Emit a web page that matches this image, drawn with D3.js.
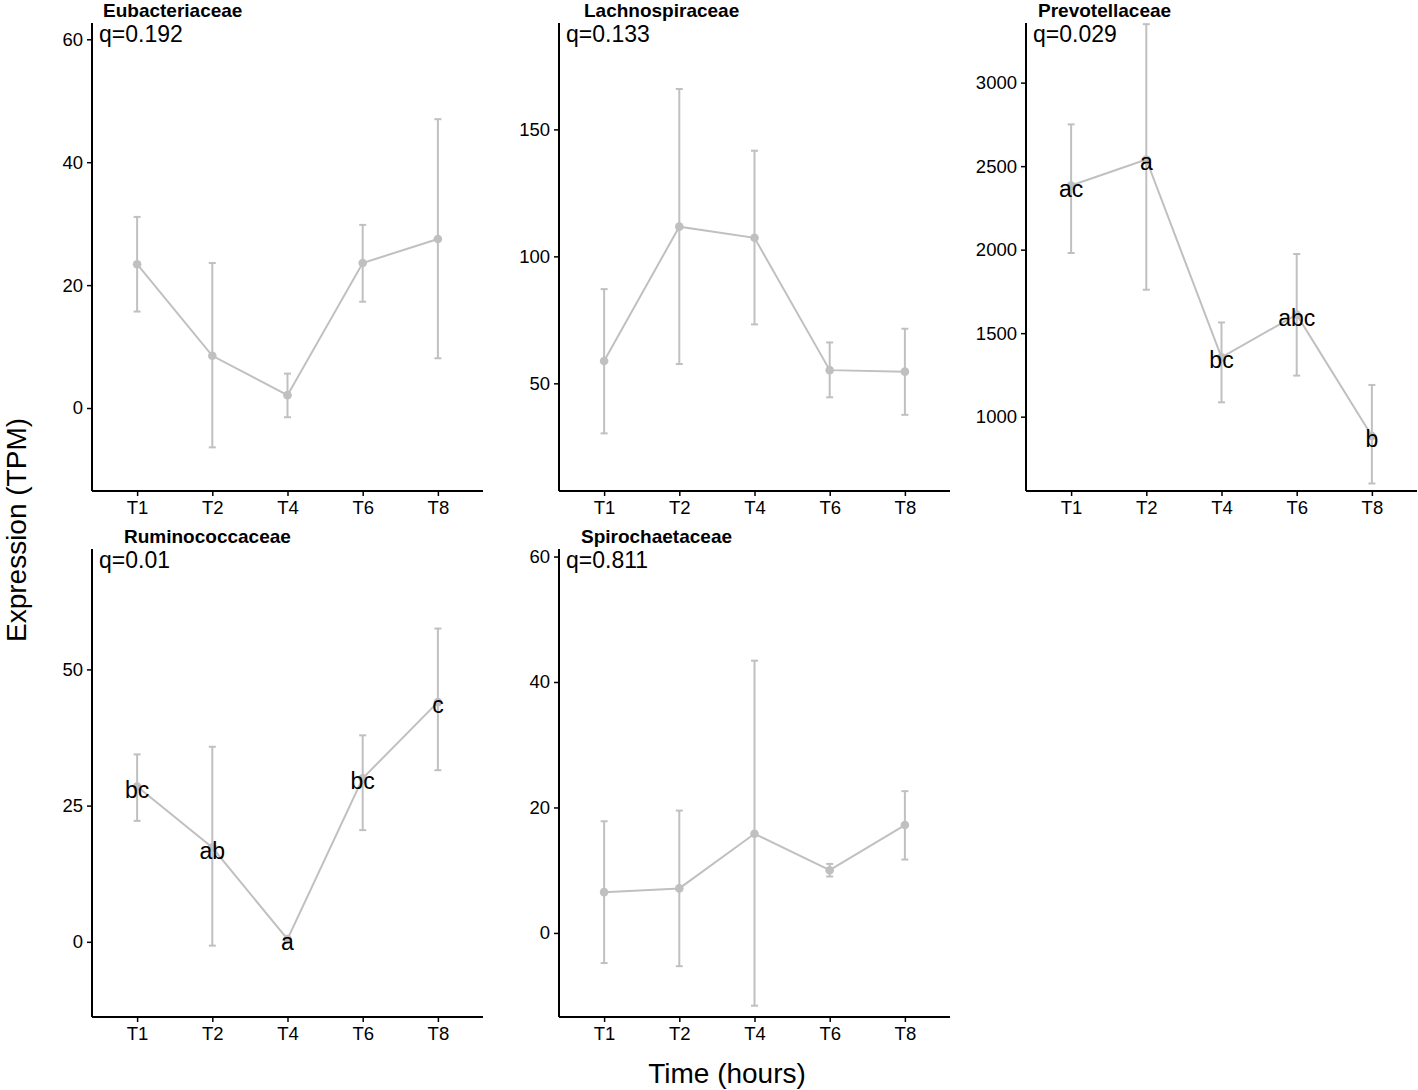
<!DOCTYPE html>
<html>
<head>
<meta charset="utf-8">
<script src="https://cdn.jsdelivr.net/npm/d3@7"></script>
<style>
  html, body { margin: 0; padding: 0; background: #fff; }
  svg { display: block; font-family: "Liberation Sans", Arial, Helvetica, sans-serif; }
</style>
</head>
<body>
<script>
// ---------- data ----------
const times = ["T1", "T2", "T4", "T6", "T8"];
const families = ["Eubacteriaceae", "Lachnospiraceae", "Prevotellaceae", "Ruminococcaceae", "Spirochaetaceae"];
const qLabels = ["q=0.192", "q=0.133", "q=0.029", "q=0.01", "q=0.811"];

const eubMean  = [23.4, 8.5, 2.1, 23.6, 27.5];
const eubUpper = [31.1, 23.6, 5.6, 29.8, 47.0];
const eubLower = [15.7, -6.4, -1.5, 17.3, 8.1];

const lachMean  = [58.8, 111.7, 107.3, 55.2, 54.6];
const lachUpper = [87.1, 165.9, 141.6, 66.1, 71.5];
const lachLower = [30.3, 57.6, 73.2, 44.5, 37.6];

const prevMean  = [2384, 2540, 1355, 1611, 884];
const prevUpper = [2750, 3350, 1564, 1974, 1190];
const prevLower = [1980, 1760, 1086, 1246, 600];
const prevLetters = ["ac", "a", "bc", "abc", "b"];

const rumMean  = [28.5, 17.3, 0.5, 30.0, 44.0];
const rumUpper = [34.4, 35.8, 0.5, 37.9, 57.5];
const rumLower = [22.2, -0.7, 0.5, 20.5, 31.5];
const rumLetters = ["bc", "ab", "a", "bc", "c"];

const spiroMean  = [6.5, 7.1, 15.8, 10.0, 17.2];
const spiroUpper = [17.8, 19.5, 43.4, 11.0, 22.6];
const spiroLower = [-4.8, -5.3, -11.6, 9.0, 11.7];

// axis ranges and ticks
const eubLimits = [-13.5, 62.65];
const lachLimits = [7.6, 191.9];
const prevLimits = [555, 3357];
const rumLimits = [-13.8, 72.1];
const spiroLimits = [-13.4, 61.2];

const eubTicks = [0, 20, 40, 60];
const lachTicks = [50, 100, 150];
const prevTicks = [1000, 1500, 2000, 2500, 3000];
const rumTicks = [0, 25, 50];
const spiroTicks = [0, 20, 40, 60];

const xTitle = "Time (hours)";
const yTitle = "Expression (TPM)";

// ---------- layout ----------
const W = 1418, H = 1090;
const colLeft = [92, 559, 1026];
const rowTop = [23, 549];
const pw = 391, ph = 468;
const titleOffsets = [11, 25, 12, 32, 22];
const grey = "#C0C0C0";

const panels = [
  { name: families[0], q: qLabels[0], mean: eubMean, upper: eubUpper, lower: eubLower, lim: eubLimits, ticks: eubTicks, letters: null },
  { name: families[1], q: qLabels[1], mean: lachMean, upper: lachUpper, lower: lachLower, lim: lachLimits, ticks: lachTicks, letters: null },
  { name: families[2], q: qLabels[2], mean: prevMean, upper: prevUpper, lower: prevLower, lim: prevLimits, ticks: prevTicks, letters: prevLetters },
  { name: families[3], q: qLabels[3], mean: rumMean, upper: rumUpper, lower: rumLower, lim: rumLimits, ticks: rumTicks, letters: rumLetters },
  { name: families[4], q: qLabels[4], mean: spiroMean, upper: spiroUpper, lower: spiroLower, lim: spiroLimits, ticks: spiroTicks, letters: null }
];

const svg = d3.select("body").append("svg").attr("width", W).attr("height", H);

panels.forEach((p, i) => {
  const left = colLeft[i % 3];
  const top = rowTop[Math.floor(i / 3)];
  const g = svg.append("g").attr("transform", `translate(${left},${top})`);

  const x = d3.scalePoint().domain(times).range([0, pw]).padding(0.6);
  const y = d3.scaleLinear().domain(p.lim).range([ph, 0]);

  const rows = times.map((t, j) => ({ t, m: p.mean[j], u: p.upper[j], l: p.lower[j], lab: p.letters ? p.letters[j] : null }));

  // error bars
  const eb = g.append("g").attr("stroke", grey).attr("stroke-width", 2).attr("fill", "none");
  rows.forEach(r => {
    const cx = x(r.t);
    eb.append("line").attr("x1", cx).attr("x2", cx).attr("y1", y(r.u)).attr("y2", y(r.l));
    eb.append("line").attr("x1", cx - 3.5).attr("x2", cx + 3.5).attr("y1", y(r.u)).attr("y2", y(r.u));
    eb.append("line").attr("x1", cx - 3.5).attr("x2", cx + 3.5).attr("y1", y(r.l)).attr("y2", y(r.l));
  });

  // line
  const line = d3.line().x(d => x(d.t)).y(d => y(d.m));
  g.append("path").datum(rows).attr("d", line).attr("fill", "none").attr("stroke", grey).attr("stroke-width", 2);

  // points
  g.selectAll("circle.pt").data(rows).enter().append("circle")
    .attr("cx", d => x(d.t)).attr("cy", d => y(d.m)).attr("r", 4.3).attr("fill", grey);

  // letters
  if (p.letters) {
    g.selectAll("text.let").data(rows).enter().append("text")
      .attr("x", d => x(d.t)).attr("y", d => y(d.m)).attr("dy", "0.48em")
      .attr("text-anchor", "middle").attr("font-size", 23).attr("fill", "#000")
      .text(d => d.lab);
  }

  // axes
  const xAxis = g.append("g").attr("transform", `translate(0,${ph})`)
    .call(d3.axisBottom(x).tickSize(5).tickPadding(5));
  const yAxis = g.append("g").call(d3.axisLeft(y).tickValues(p.ticks).tickSize(5).tickPadding(4).tickFormat(d3.format("d")));
  [xAxis, yAxis].forEach(a => {
    a.select(".domain").attr("stroke", "#000").attr("stroke-width", 2)
      .attr("d", a === xAxis ? `M0,0H${pw}` : `M0,0V${ph}`);
    a.selectAll(".tick line").attr("stroke", "#000").attr("stroke-width", 1.5);
    a.selectAll(".tick text").attr("font-size", 18.5).attr("fill", "#000")
      .attr("font-family", "'Liberation Sans', Arial, sans-serif");
  });

  // title and q
  g.append("text").attr("x", titleOffsets[i]).attr("y", -6)
    .attr("font-size", 19).attr("font-weight", "bold").attr("fill", "#000").text(p.name);
  g.append("text").attr("x", 7).attr("y", 19)
    .attr("font-size", 23).attr("fill", "#000").text(p.q);
});

svg.append("text").attr("x", 727).attr("y", 1083).attr("text-anchor", "middle")
  .attr("font-size", 28).attr("fill", "#000").text(xTitle);
svg.append("text").attr("transform", "translate(26,530) rotate(-90)").attr("text-anchor", "middle")
  .attr("font-size", 28).attr("fill", "#000").text(yTitle);
</script>
</body>
</html>
